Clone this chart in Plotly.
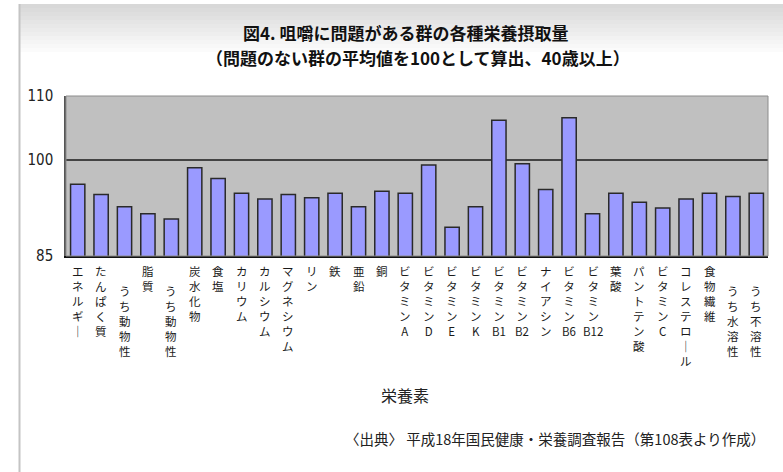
import plotly.graph_objects as go

# 栄養素ごとの摂取量（問題のない群の平均値 = 100）
nutrients = [
    "エネルギー", "たんぱく質", "うち動物性", "脂質", "うち動物性",
    "炭水化物", "食塩", "カリウム", "カルシウム", "マグネシウム",
    "リン", "鉄", "亜鉛", "銅", "ビタミンA",
    "ビタミンD", "ビタミンE", "ビタミンK", "ビタミンB1", "ビタミンB2",
    "ナイアシン", "ビタミンB6", "ビタミンB12", "葉酸", "パントテン酸",
    "ビタミンC", "コレステロール", "食物繊維", "うち水溶性", "うち不溶性",
]
intake = [
    96.2, 94.6, 92.7, 91.6, 90.8,
    98.8, 97.1, 94.8, 93.9, 94.6,
    94.1, 94.8, 92.7, 95.1, 94.8,
    99.2, 89.5, 92.7, 106.2, 99.4,
    95.4, 106.6, 91.6, 94.8, 93.4,
    92.5, 93.9, 94.8, 94.3, 94.8,
]
# 「うち〜」の内訳項目はラベルを一段下げて表示する
sub_items = [False, False, True, False, True] + [False] * 23 + [True, True]

y_ticks = [85, 100, 110]
baseline = 100

# 描画領域（ピクセル）
W, H = 783, 472
PL, PR, PT, PB = 66, 768, 96, 256


def px_x(px):
    return (px - PL) / (PR - PL)


def px_y(py):
    return (PB - py) / (PB - PT)


def vertical(label):
    """縦書き用に1文字ずつ改行する（英数字の連続はまとめる）"""
    parts = []
    buf = ""
    for ch in label:
        if ch.isascii():
            buf += ch
        else:
            if buf:
                parts.append(buf)
                buf = ""
            parts.append("｜" if ch == "ー" else ch)
    if buf:
        parts.append(buf)
    return "<br>".join(parts)


xs = list(range(len(nutrients)))

fig = go.Figure()
fig.add_trace(go.Bar(
    x=xs,
    y=intake,
    marker=dict(color="#9a9aff", line=dict(color="#2a2a2a", width=1.5)),
    hovertext=nutrients,
    hoverinfo="text+y",
))

JP = "Noto Sans CJK JP"

shapes = []
# 外枠上部のグラデーション帯
top, bottom = 4, 56
n_band = 13
for i in range(n_band):
    y0 = top + (bottom - top) * i / n_band
    y1 = top + (bottom - top) * (i + 1) / n_band
    g = int(216 + (255 - 216) * i / (n_band - 1))
    shapes.append(dict(
        type="rect", xref="paper", yref="paper",
        x0=px_x(20), x1=px_x(800), y0=px_y(y1), y1=px_y(y0),
        fillcolor=f"rgb({g},{g},{g})", line=dict(width=0), layer="below",
    ))
# 外枠の左線
shapes.append(dict(
    type="line", xref="paper", yref="paper",
    x0=px_x(19.5), x1=px_x(19.5), y0=px_y(4), y1=px_y(480),
    line=dict(color="#c4c4c4", width=2),
))
# 基準線（100）
shapes.append(dict(
    type="line", xref="paper", yref="y",
    x0=0, x1=1, y0=baseline, y1=baseline,
    line=dict(color="#1a1a1a", width=1.5), layer="below",
))
# プロット領域の枠
shapes.append(dict(
    type="rect", xref="paper", yref="paper",
    x0=0, x1=1, y0=0, y1=1,
    line=dict(color="#8c8c8c", width=1),
))

annotations = [
    dict(text="図4. 咀嚼に問題がある群の各種栄養摂取量",
         xref="paper", yref="paper", x=px_x(405), y=px_y(33),
         xanchor="center", yanchor="middle", showarrow=False,
         font=dict(family=JP, size=17, color="#111111", weight="bold")),
    dict(text="（問題のない群の平均値を100として算出、40歳以上）",
         xref="paper", yref="paper", x=px_x(418), y=px_y(57),
         xanchor="center", yanchor="middle", showarrow=False,
         font=dict(family=JP, size=17, color="#111111", weight="bold")),
    dict(text="栄養素",
         xref="paper", yref="paper", x=px_x(405), y=px_y(395),
         xanchor="center", yanchor="middle", showarrow=False,
         font=dict(family=JP, size=16, color="#222222")),
    dict(text="〈出典〉 平成18年国民健康・栄養調査報告（第108表より作成）",
         xref="paper", yref="paper", x=px_x(767), y=px_y(438),
         xanchor="right", yanchor="middle", showarrow=False,
         font=dict(family=JP, size=14.5, color="#222222")),
]

for xi, name, sub in zip(xs, nutrients, sub_items):
    annotations.append(dict(
        text=vertical(name), x=xi, xref="x",
        y=px_y(282 if sub else 262), yref="paper",
        xanchor="center", yanchor="top", align="center", showarrow=False,
        borderpad=0,
        font=dict(family=JP, size=11.5, color="#1a1a1a"),
    ))

fig.update_layout(
    width=W, height=H,
    margin=dict(l=PL, r=W - PR, t=PT, b=H - PB, pad=0),
    paper_bgcolor="white",
    plot_bgcolor="#c0c0c0",
    bargap=0.39,
    showlegend=False,
    shapes=shapes,
    annotations=annotations,
    xaxis=dict(
        range=[-0.5, len(nutrients) - 0.5],
        showticklabels=False, ticks="", showgrid=False, zeroline=False,
        showline=True, linecolor="#111111", linewidth=2,
    ),
    yaxis=dict(
        range=[y_ticks[0], y_ticks[-1]],
        tickvals=y_ticks, ticktext=[str(v) for v in y_ticks],
        ticks="", showgrid=False, zeroline=False,
        showline=True, linecolor="#555555", linewidth=1.5,
        ticklabelstandoff=8,
        tickfont=dict(family="DejaVu Sans Condensed, Liberation Sans Narrow, sans-serif",
                      size=15, color="#222222"),
    ),
)

fig.write_html("out.html")
